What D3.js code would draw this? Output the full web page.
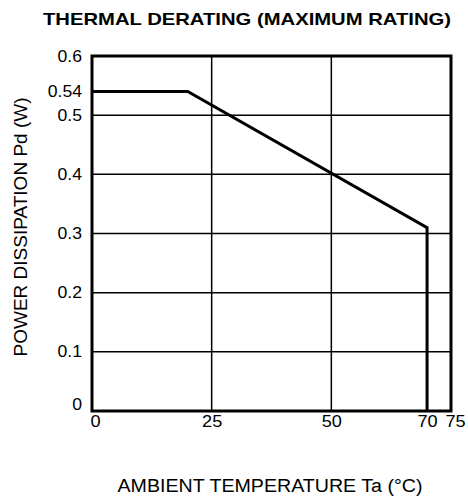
<!DOCTYPE html>
<html>
<head>
<meta charset="utf-8">
<script src="https://cdn.jsdelivr.net/npm/d3@7"></script>
<style>
  body { margin: 0; background: #fff; }
  text { font-family: "Liberation Sans", Arial, sans-serif; fill: #000; }
</style>
</head>
<body>
<div id="chart"></div>
<script>
// derating curve (Ta in degC, Pd in W)
const temps = [0, 20, 70, 70]
const power = [0.54, 0.54, 0.31, 0]

const xTicks = [0, 25, 50, 70, 75]
const yTicks = [0, 0.1, 0.2, 0.3, 0.4, 0.5, 0.54, 0.6]
const xGrid = [25, 50]
const yGrid = [0.1, 0.2, 0.3, 0.4, 0.5]

const width = 468, height = 501
const margin = {top: 56, right: 17, bottom: 90, left: 92}

let svg = d3.select('#chart').append('svg')
  .attr('width', width)
  .attr('height', height)

let x = d3.scaleLinear().domain([0, 75]).range([margin.left, width - margin.right])
let y = d3.scaleLinear().domain([0, 0.6]).range([height - margin.bottom, margin.top])

// scanned original is a bit wide, so text gets stretched sideways
svg.append('text')
  .attr('x', 247)
  .attr('y', 25)
  .attr('text-anchor', 'middle')
  .attr('textLength', 408)
  .attr('lengthAdjust', 'spacingAndGlyphs')
  .style('font-size', '17px')
  .style('font-weight', 'bold')
  .text('THERMAL DERATING (MAXIMUM RATING)')

let grid = svg.append('g')

grid.selectAll('.vg')
  .data(xGrid)
  .enter()
  .append('line')
  .attr('x1', d => x(d)).attr('x2', d => x(d))
  .attr('y1', y(0)).attr('y2', y(0.6))
  .attr('stroke', '#000')
  .attr('stroke-width', 1.5)

grid.selectAll('.hg')
  .data(yGrid)
  .enter()
  .append('line')
  .attr('x1', x(0)).attr('x2', x(75))
  .attr('y1', d => y(d)).attr('y2', d => y(d))
  .attr('stroke', '#000')
  .attr('stroke-width', 1.5)

let line = d3.line()
  .x(d => x(d[0]))
  .y(d => y(d[1]))

svg.append('path')
  .datum(temps.map((t, i) => [t, power[i]]))
  .attr('d', line)
  .attr('fill', 'none')
  .attr('stroke', '#000')
  .attr('stroke-width', 3)

svg.append('rect')
  .attr('x', x(0)).attr('y', y(0.6))
  .attr('width', x(75) - x(0))
  .attr('height', y(0) - y(0.6))
  .attr('fill', 'none')
  .attr('stroke', '#000')
  .attr('stroke-width', 3)

let yAxis = svg.append('g')
  .attr('transform', `translate(${x(0) - 10},0)`)
  .call(d3.axisLeft(y).tickValues(yTicks).tickSize(0).tickPadding(0)
    .tickFormat(d => d === 0 ? '0' : String(d)))
yAxis.select('.domain').remove()
yAxis.selectAll('text')
  .style('font-size', '16px')
  .attr('x', 0)
  .attr('transform', d => `translate(0,${d === 0 ? -7 : 0}) scale(1.1,1)`)

let xAxis = svg.append('g')
  .attr('transform', `translate(0,${y(0) + 4})`)
  .call(d3.axisBottom(x).tickValues(xTicks).tickSize(0).tickPadding(0))
xAxis.select('.domain').remove()
xAxis.selectAll('text')
  .style('font-size', '16.5px')
  .attr('transform', d => `translate(${d === 0 ? 3 : d === 75 ? 4 : 0},0) scale(1.1,1)`)

svg.append('text')
  .attr('x', 270)
  .attr('y', 492)
  .attr('text-anchor', 'middle')
  .attr('textLength', 305)
  .attr('lengthAdjust', 'spacingAndGlyphs')
  .style('font-size', '18px')
  .text('AMBIENT TEMPERATURE Ta (°C)')

svg.append('text')
  .attr('transform', `translate(27,227) rotate(-90)`)
  .attr('text-anchor', 'middle')
  .style('font-size', '19px')
  .text('POWER DISSIPATION Pd (W)')
</script>
</body>
</html>
